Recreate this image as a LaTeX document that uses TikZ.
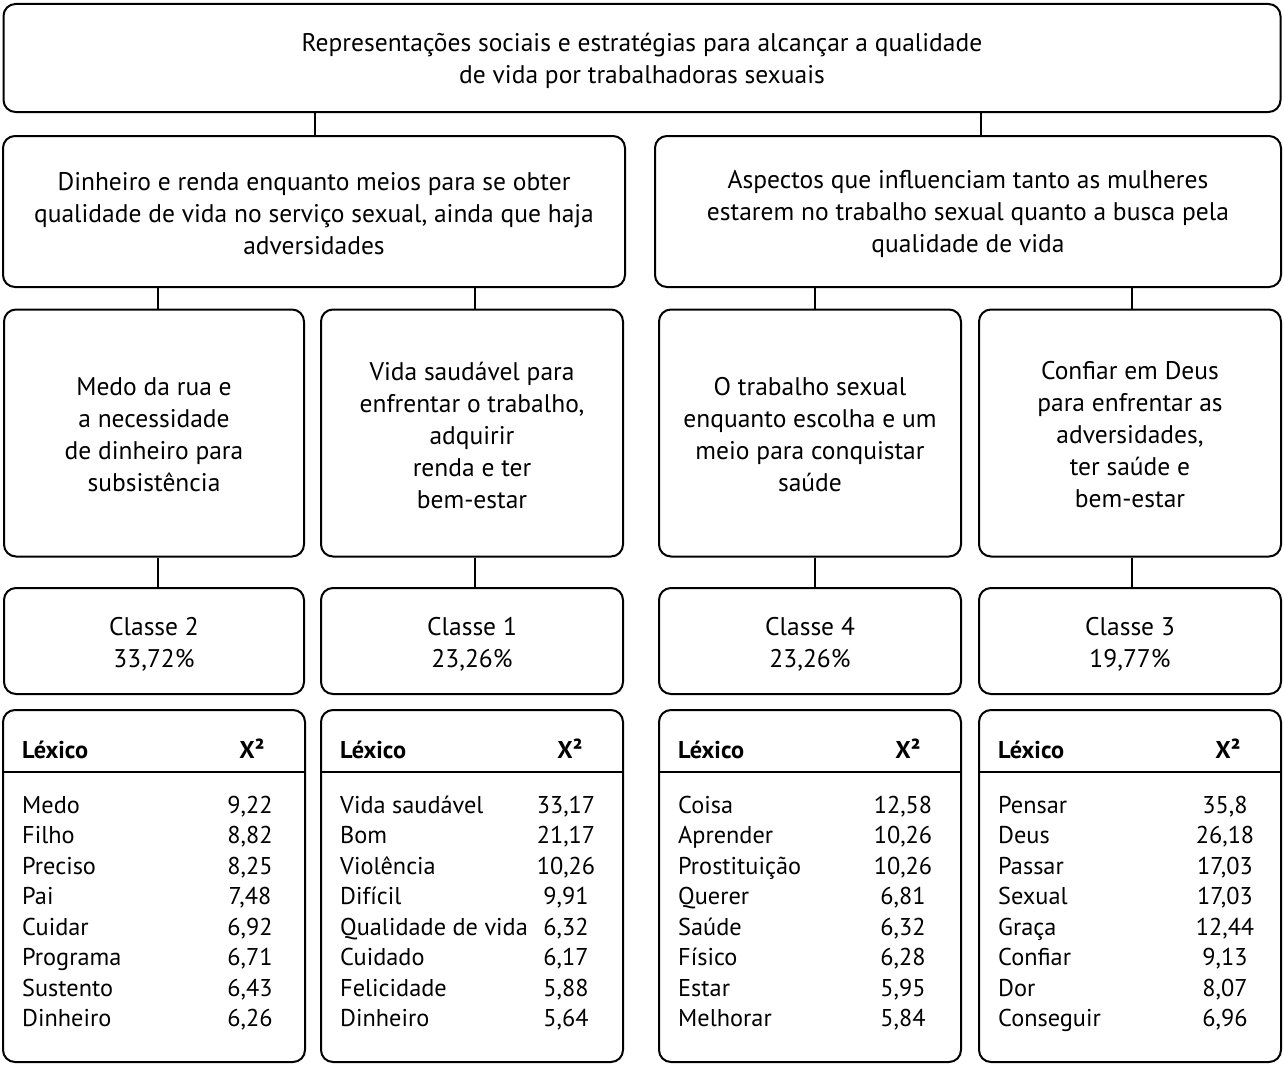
\documentclass[tikz,border=0pt]{standalone}
\usepackage{fontspec}
\setmainfont{PT Sans}
\begin{document}
\begin{tikzpicture}[x=1pt,y=-1pt,
  box/.style={draw=black, line width=2pt, rounded corners=12pt, inner sep=0pt},
  txt/.style={inner sep=0pt, align=center, font=\fontsize{25.5}{32}\selectfont},
  link/.style={draw=black, line width=2pt},
  cell/.style={inner sep=0pt, font=\fontsize{24.3}{28}\selectfont},
  head/.style={inner sep=0pt, font=\fontsize{24.3}{28}\selectfont\bfseries},
  rule/.style={draw=black, line width=2pt}]
\useasboundingbox (0,0) rectangle (1284,1065);

% level 1
\node[box, minimum width=1277, minimum height=108] (top) at (642,58) {};
\node[txt] (topt) at ([yshift=-3pt]top.center)
  {Representações sociais e estratégias para alcançar a qualidade\\de vida por trabalhadoras sexuais};

% level 2
\node[box, minimum width=622, minimum height=151] (la) at (314,211.5) {};
\node[txt] (lat) at ([yshift=-2pt]la.center)
  {Dinheiro e renda enquanto meios para se obter\\qualidade de vida no serviço sexual, ainda que haja\\adversidades};
\node[box, minimum width=626, minimum height=151] (lb) at (968,211.5) {};
\node[txt] (lbt) at ([yshift=-2pt]lb.center)
  {Aspectos que influenciam tanto as mulheres\\estarem no trabalho sexual quanto a busca pela\\qualidade de vida};

% level 3
\node[box, minimum width=300, minimum height=247] (c1) at (154,433) {};
\node[txt] (c1t) at ([yshift=-2pt]c1.center) {Medo da rua e\\a necessidade\\de dinheiro para\\subsistência};
\node[box, minimum width=302, minimum height=247] (c2) at (472,433) {};
\node[txt] (c2t) at ([yshift=-2pt]c2.center) {Vida saudável para\\enfrentar o trabalho,\\adquirir\\renda e ter\\bem-estar};
\node[box, minimum width=302, minimum height=247] (c3) at (810,433) {};
\node[txt] (c3t) at ([yshift=-2pt]c3.center) {O trabalho sexual\\enquanto escolha e um\\meio para conquistar\\saúde};
\node[box, minimum width=302, minimum height=247] (c4) at (1130,433) {};
\node[txt] (c4t) at ([yshift=-2pt]c4.center) {Confiar em Deus\\para enfrentar as\\adversidades,\\ter saúde e\\bem-estar};

% level 4
\node[box, minimum width=300, minimum height=106] (k1) at (154,641) {};
\node[txt] (k1t) at ([yshift=-3pt]k1.center) {Classe 2\\33,72\%};
\node[box, minimum width=302, minimum height=106] (k2) at (472,641) {};
\node[txt] (k2t) at ([yshift=-3pt]k2.center) {Classe 1\\23,26\%};
\node[box, minimum width=302, minimum height=106] (k3) at (810,641) {};
\node[txt] (k3t) at ([yshift=-3pt]k3.center) {Classe 4\\23,26\%};
\node[box, minimum width=302, minimum height=106] (k4) at (1130,641) {};
\node[txt] (k4t) at ([yshift=-3pt]k4.center) {Classe 3\\19,77\%};

% tables
\node[box, minimum width=302, minimum height=352] (t1) at (154,886) {};
\node[box, minimum width=302, minimum height=352] (t2) at (472,886) {};
\node[box, minimum width=302, minimum height=352] (t3) at (810,886) {};
\node[box, minimum width=302, minimum height=352] (t4) at (1130,886) {};

\coordinate (hl) at (0,772);
\foreach \t in {t1,t2,t3,t4}{
  \draw[rule] (\t.west |- hl) -- (\t.east |- hl);
}

% connector columns
\coordinate (xa) at (315,0);
\coordinate (xb) at (981,0);
\coordinate (x1) at (158,0);
\coordinate (x2) at (475,0);
\coordinate (x3) at (815,0);
\coordinate (x4) at (1132,0);

\draw[link] (top.south -| xa) -- (la.north -| xa);
\draw[link] (top.south -| xb) -- (lb.north -| xb);
\draw[link] (la.south -| x1) -- (c1.north -| x1);
\draw[link] (la.south -| x2) -- (c2.north -| x2);
\draw[link] (lb.south -| x3) -- (c3.north -| x3);
\draw[link] (lb.south -| x4) -- (c4.north -| x4);
\draw[link] (c1.south -| x1) -- (k1.north -| x1);
\draw[link] (c2.south -| x2) -- (k2.north -| x2);
\draw[link] (c3.south -| x3) -- (k3.north -| x3);
\draw[link] (c4.south -| x4) -- (k4.north -| x4);

% table headers and rows
\foreach \L/\k in {3/1,321/2,659/3,979/4}{
  \node[head, anchor=base west] (hw\k) at (\L+19,758) {Léxico};
  \node[head, anchor=base] (hx\k) at (\L+249,758) {X²};
}

\foreach [count=\i] \w/\n in {Medo/{9,22},Filho/{8,82},Preciso/{8,25},Pai/{7,48},Cuidar/{6,92},Programa/{6,71},Sustento/{6,43},Dinheiro/{6,26}}{
  \node[cell, anchor=base west] (aw\i) at (22,{813+30.5*(\i-1)}) {\w};
  \node[cell, anchor=base] (an\i) at (250,{813+30.5*(\i-1)}) {\n};
}
\foreach [count=\i] \w/\n in {Vida saudável/{33,17},Bom/{21,17},Violência/{10,26},Difícil/{9,91},Qualidade de vida/{6,32},Cuidado/{6,17},Felicidade/{5,88},Dinheiro/{5,64}}{
  \node[cell, anchor=base west] (bw\i) at (340,{813+30.5*(\i-1)}) {\w};
  \node[cell, anchor=base] (bn\i) at (566,{813+30.5*(\i-1)}) {\n};
}
\foreach [count=\i] \w/\n in {Coisa/{12,58},Aprender/{10,26},Prostituição/{10,26},Querer/{6,81},Saúde/{6,32},Físico/{6,28},Estar/{5,95},Melhorar/{5,84}}{
  \node[cell, anchor=base west] (cw\i) at (678,{813+30.5*(\i-1)}) {\w};
  \node[cell, anchor=base] (cn\i) at (903,{813+30.5*(\i-1)}) {\n};
}
\foreach [count=\i] \w/\n in {Pensar/{35,8},Deus/{26,18},Passar/{17,03},Sexual/{17,03},Graça/{12,44},Confiar/{9,13},Dor/{8,07},Conseguir/{6,96}}{
  \node[cell, anchor=base west] (dw\i) at (998,{813+30.5*(\i-1)}) {\w};
  \node[cell, anchor=base] (dn\i) at (1225,{813+30.5*(\i-1)}) {\n};
}
\end{tikzpicture}
\end{document}
